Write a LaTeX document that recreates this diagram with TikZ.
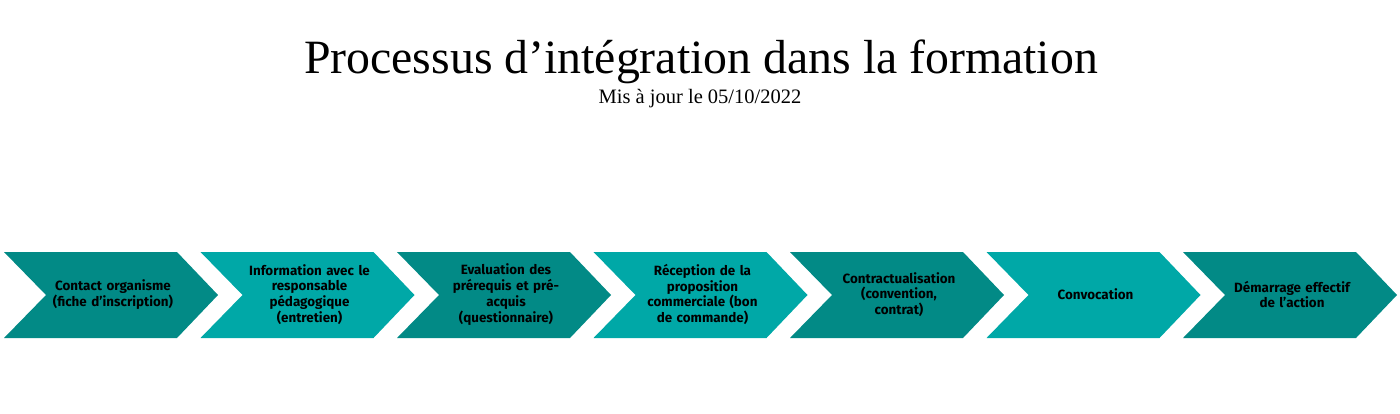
\documentclass[tikz,border=0pt]{standalone}
\usepackage{fontspec}
\setmainfont{Liberation Serif}
\newfontfamily\stepfont{Fira Sans}
\usepackage{xcolor}
\definecolor{tealdark}{HTML}{028A86}
\definecolor{teallight}{HTML}{00A8A7}

\begin{document}
\begin{tikzpicture}[x=1pt, y=-1pt,
        steptext/.style={align=center, text width=140pt, inner sep=0pt,
            font=\stepfont\bfseries\fontsize{13.4}{15.8}\selectfont}]
        \useasboundingbox (0,0) rectangle (1400,413);

        % titre et date
        \node[font=\fontsize{47.8}{52}\selectfont] (titre) at (701,62) {Processus d’intégration dans la formation};
        \node[font=\fontsize{20.5}{24}\selectfont] (date) at (700,99) {Mis à jour le 05/10/2022};

        % chevrons du processus
        \foreach \x/\col/\txt [count=\i] in {
                4/tealdark/{Contact organisme\\(fiche d’inscription)},
                200.5/teallight/{Information avec le\\responsable\\pédagogique\\(entretien)},
                397/tealdark/{Evaluation des\\prérequis et pré-\\acquis\\(questionnaire)},
                593.5/teallight/{Réception de la\\proposition\\commerciale (bon\\de commande)},
                790/tealdark/{Contractualisation\\(convention,\\contrat)},
                986.5/teallight/{Convocation},
                1183/tealdark/{Démarrage effectif\\de l’action}} {
            \fill[\col] (\x,252) -- ++(173,0) -- ++(41,43) -- ++(-41,43) -- ++(-173,0) -- ++(42,-43) -- cycle;
            \node[steptext] (step\i) at (\x+109,294.5) {\txt};
        }
    \end{tikzpicture}
\end{document}
